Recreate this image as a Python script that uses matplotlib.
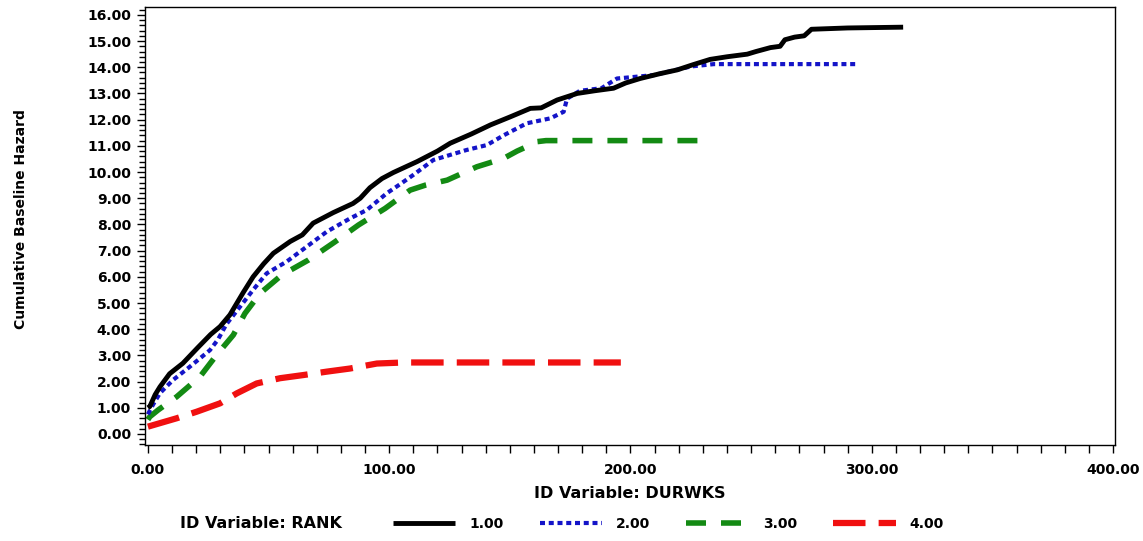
import matplotlib
matplotlib.use("Agg")
import matplotlib.pyplot as plt
from matplotlib.lines import Line2D
from matplotlib.ticker import MultipleLocator, FormatStrFormatter

# ---- data ----
rank1_x = [0, 0.8, 3, 5, 9, 14.5, 20.7, 26, 29.9, 34, 39.5, 43.6, 48, 52, 59, 64, 68.5,
           76.8, 85, 88, 92, 97, 101.7, 111.6, 120, 125.3, 134, 142, 150, 158.5, 163,
           169.6, 177.9, 185, 193, 198, 204, 212, 219.4, 226, 233, 240, 248.4, 252, 258,
           262, 264, 268, 272, 275, 290, 313]
rank1_y = [1.0, 1.05, 1.5, 1.8, 2.3, 2.7, 3.3, 3.8, 4.1, 4.55, 5.4, 6.0, 6.5, 6.9, 7.35,
           7.6, 8.05, 8.45, 8.8, 9.0, 9.4, 9.75, 9.98, 10.4, 10.8, 11.1, 11.45, 11.8, 12.1,
           12.43, 12.45, 12.75, 13.0, 13.1, 13.2, 13.4, 13.57, 13.75, 13.9, 14.1, 14.3,
           14.4, 14.5, 14.6, 14.75, 14.8, 15.05, 15.15, 15.2, 15.45, 15.5, 15.53]

rank2_x = [0, 2, 5, 10.4, 17.4, 25.7, 29, 32.6, 38.2, 43.6, 49.2, 57.5, 65.8, 74.1, 83.8,
           90.7, 99, 104.6, 110, 118.3, 132, 140.5, 147.4, 157, 166.8, 172.3, 173.7, 179,
           188, 194.4, 209.7, 225, 234.6, 293.4]
rank2_y = [0.75, 1.1, 1.56, 2.06, 2.57, 3.2, 3.6, 4.2, 4.86, 5.5, 6.13, 6.58, 7.15, 7.72,
           8.23, 8.55, 9.19, 9.54, 9.89, 10.46, 10.84, 11.03, 11.4, 11.86, 12.05, 12.3,
           12.8, 13.1, 13.2, 13.57, 13.7, 14.03, 14.12, 14.12]

rank3_x = [0, 0.8, 4.3, 11.9, 21.6, 28.5, 35.4, 40.2, 46.5, 55.5, 66.5, 77.6, 87.3, 98.3,
           108.7, 115, 124, 136.3, 147.4, 153, 158.5, 161.3, 165, 228]
rank3_y = [0.55, 0.66, 0.92, 1.42, 2.19, 3.02, 3.78, 4.6, 5.37, 6.07, 6.64, 7.34, 7.98,
           8.61, 9.31, 9.5, 9.69, 10.2, 10.52, 10.8, 11.03, 11.16, 11.2, 11.2]

rank4_x = [0, 11.9, 20.2, 29.9, 36.8, 45.1, 54.8, 64.4, 74.1, 83.8, 94.9, 106, 196]
rank4_y = [0.28, 0.6, 0.85, 1.17, 1.55, 1.93, 2.13, 2.25, 2.38, 2.5, 2.69, 2.73, 2.73]

rank_labels = ["1.00", "2.00", "3.00", "4.00"]
x_label = "ID Variable: DURWKS"
y_label = "Cumulative Baseline Hazard"
legend_title = "ID Variable: RANK"

# ---- figure ----
W, H = 1143, 541
fig = plt.figure(figsize=(W / 100, H / 100), dpi=100)
ax = fig.add_axes([145 / W, 1 - 445 / H, (1115 - 145) / W, (445 - 7) / H])

styles = [
    dict(color="black", lw=3.5, ls="-"),
    dict(color="#1414c8", lw=3.0, ls=(0, (1.2, 0.9))),
    dict(color="#138a13", lw=4.0, ls=(0, (3.6, 2.7))),
    dict(color="#f01010", lw=4.5, ls=(0, (5.2, 2.1))),
]
series = [(rank1_x, rank1_y), (rank2_x, rank2_y), (rank3_x, rank3_y), (rank4_x, rank4_y)]

# draw in reverse order so black is on top
for (xs, ys), st in list(zip(series, styles))[::-1]:
    ax.plot(xs, ys, color=st["color"], lw=st["lw"], linestyle=st["ls"],
            solid_capstyle="butt", dash_capstyle="butt")

ax.set_xlim(-1.2, 400.8)
ax.set_ylim(-0.42, 16.3)

ax.xaxis.set_major_locator(MultipleLocator(100))
ax.xaxis.set_minor_locator(MultipleLocator(10))
ax.yaxis.set_major_locator(MultipleLocator(1))
ax.yaxis.set_minor_locator(MultipleLocator(0.2))
ax.xaxis.set_major_formatter(FormatStrFormatter("%.2f"))
ax.yaxis.set_major_formatter(FormatStrFormatter("%.2f"))

ax.tick_params(axis="both", which="major", direction="out", length=6, width=1,
               labelsize=10)
ax.tick_params(axis="x", which="minor", direction="out", length=6, width=1)
ax.tick_params(axis="y", which="minor", direction="out", length=4, width=1)
ax.tick_params(axis="x", which="major", pad=7)
ax.tick_params(axis="y", which="major", pad=4)
for lab in ax.get_xticklabels() + ax.get_yticklabels():
    lab.set_fontweight("bold")
    lab.set_family("DejaVu Sans")
for sp in ax.spines.values():
    sp.set_linewidth(1)
    sp.set_color("black")

fig.text(630 / W, 1 - 494 / H, x_label, ha="center", va="center",
         fontsize=11.5, fontweight="bold")
fig.text(21 / W, 1 - 219 / H, y_label, ha="center", va="center", rotation=90,
         fontsize=10, fontweight="bold")

# legend
fig.text(180 / W, 1 - 524 / H, legend_title, ha="left", va="center",
         fontsize=11.5, fontweight="bold")
handles = [Line2D([], [], color=st["color"], lw=st["lw"], linestyle=st["ls"],
                  solid_capstyle="butt", dash_capstyle="butt") for st in styles]
leg = fig.legend(handles, rank_labels, loc="center left",
                 bbox_to_anchor=(386 / W, 1 - 524 / H), ncol=4, frameon=False,
                 borderpad=0, handlelength=4.5, handletextpad=1.0,
                 columnspacing=2.6, prop=dict(size=10, weight="bold"))

fig.savefig("out.png", dpi=100)
